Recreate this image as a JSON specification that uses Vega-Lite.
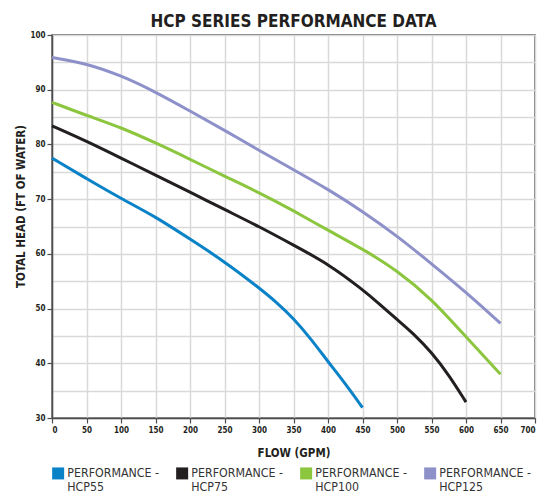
{
  "$schema": "https://vega.github.io/schema/vega-lite/v6.json",
  "width": 483,
  "height": 383,
  "autosize": "none",
  "padding": {"left": 52, "top": 35, "right": 16, "bottom": 76},
  "title": {
    "text": "HCP SERIES PERFORMANCE DATA",
    "font": "DejaVu Sans Condensed, sans-serif",
    "fontSize": 17,
    "fontWeight": "bold",
    "color": "#231f20",
    "anchor": "middle",
    "baseline": "alphabetic",
    "offset": 7,
    "dy": 20
  },
  "config": {
    "view": {"stroke": "#4d4d4d", "strokeWidth": 1.5},
    "axis": {
      "labelFont": "DejaVu Sans Condensed, sans-serif",
      "labelFontSize": 8,
      "labelFontWeight": "bold",
      "labelColor": "#231f20",
      "titleFont": "DejaVu Sans Condensed, sans-serif",
      "titleFontSize": 11.5,
      "titleFontWeight": "bold",
      "titleColor": "#231f20",
      "domainColor": "#4d4d4d",
      "domainWidth": 1.5,
      "tickColor": "#4d4d4d",
      "tickWidth": 1.2,
      "tickSize": 5,
      "gridColor": "#d9d9d9",
      "gridWidth": 1.5,
      "gridOpacity": 1
    }
  },
  "data": {
    "values": [
      {"series": "HCP55", "flow": 0, "head": 77.5},
      {"series": "HCP55", "flow": 50, "head": 73.75},
      {"series": "HCP55", "flow": 100, "head": 70.1},
      {"series": "HCP55", "flow": 150, "head": 66.8},
      {"series": "HCP55", "flow": 200, "head": 62.7},
      {"series": "HCP55", "flow": 250, "head": 58.6},
      {"series": "HCP55", "flow": 300, "head": 53.8},
      {"series": "HCP55", "flow": 325, "head": 51.2},
      {"series": "HCP55", "flow": 350, "head": 48.2},
      {"series": "HCP55", "flow": 375, "head": 44.5},
      {"series": "HCP55", "flow": 400, "head": 40.3},
      {"series": "HCP55", "flow": 425, "head": 36.3},
      {"series": "HCP55", "flow": 450, "head": 31.9},
      {"series": "HCP75", "flow": 0, "head": 83.4},
      {"series": "HCP75", "flow": 50, "head": 80.6},
      {"series": "HCP75", "flow": 100, "head": 77.5},
      {"series": "HCP75", "flow": 150, "head": 74.4},
      {"series": "HCP75", "flow": 200, "head": 71.3},
      {"series": "HCP75", "flow": 250, "head": 68.1},
      {"series": "HCP75", "flow": 300, "head": 65.0},
      {"series": "HCP75", "flow": 350, "head": 61.6},
      {"series": "HCP75", "flow": 400, "head": 58.2},
      {"series": "HCP75", "flow": 450, "head": 53.5},
      {"series": "HCP75", "flow": 475, "head": 50.8},
      {"series": "HCP75", "flow": 500, "head": 48.0},
      {"series": "HCP75", "flow": 525, "head": 45.3},
      {"series": "HCP75", "flow": 550, "head": 42.0},
      {"series": "HCP75", "flow": 575, "head": 37.9},
      {"series": "HCP75", "flow": 600, "head": 32.9},
      {"series": "HCP100", "flow": 0, "head": 87.7},
      {"series": "HCP100", "flow": 50, "head": 85.3},
      {"series": "HCP100", "flow": 100, "head": 83.1},
      {"series": "HCP100", "flow": 150, "head": 80.3},
      {"series": "HCP100", "flow": 200, "head": 77.3},
      {"series": "HCP100", "flow": 250, "head": 74.2},
      {"series": "HCP100", "flow": 300, "head": 71.2},
      {"series": "HCP100", "flow": 350, "head": 67.9},
      {"series": "HCP100", "flow": 400, "head": 64.3},
      {"series": "HCP100", "flow": 450, "head": 60.9},
      {"series": "HCP100", "flow": 500, "head": 57.0},
      {"series": "HCP100", "flow": 550, "head": 51.8},
      {"series": "HCP100", "flow": 600, "head": 44.8},
      {"series": "HCP100", "flow": 650, "head": 38.0},
      {"series": "HCP125", "flow": 0, "head": 95.9},
      {"series": "HCP125", "flow": 50, "head": 94.8},
      {"series": "HCP125", "flow": 100, "head": 92.6},
      {"series": "HCP125", "flow": 150, "head": 89.6},
      {"series": "HCP125", "flow": 200, "head": 86.1},
      {"series": "HCP125", "flow": 250, "head": 82.6},
      {"series": "HCP125", "flow": 300, "head": 78.9},
      {"series": "HCP125", "flow": 350, "head": 75.4},
      {"series": "HCP125", "flow": 400, "head": 71.8},
      {"series": "HCP125", "flow": 450, "head": 67.8},
      {"series": "HCP125", "flow": 500, "head": 63.3},
      {"series": "HCP125", "flow": 550, "head": 58.2},
      {"series": "HCP125", "flow": 600, "head": 53.0},
      {"series": "HCP125", "flow": 650, "head": 47.3}
    ]
  },
  "mark": {"type": "line", "strokeWidth": 3, "interpolate": "basis"},
  "encoding": {
    "x": {
      "field": "flow",
      "type": "quantitative",
      "scale": {"domain": [0, 700], "nice": false, "zero": false},
      "axis": {
        "title": "FLOW (GPM)",
        "values": [0, 50, 100, 150, 200, 250, 300, 350, 400, 450, 500, 550, 600, 650, 700],
        "labelPadding": 3,
        "titlePadding": 13
      }
    },
    "y": {
      "field": "head",
      "type": "quantitative",
      "scale": {"domain": [30, 100], "nice": false, "zero": false},
      "axis": {
        "title": "TOTAL HEAD (FT OF WATER)",
        "values": [30, 35, 40, 45, 50, 55, 60, 65, 70, 75, 80, 85, 90, 95, 100],
        "labelExpr": "datum.value % 10 === 0 ? datum.label : ''",
        "tickOpacity": {"condition": {"test": "datum.value % 10 !== 0", "value": 0}, "value": 1},
        "labelPadding": 2,
        "titlePadding": 3,
        "titleY": 171
      }
    },
    "color": {
      "field": "series",
      "type": "nominal",
      "scale": {
        "domain": ["HCP55", "HCP75", "HCP100", "HCP125"],
        "range": ["#0a82c8", "#231f20", "#8cc63f", "#8e91c9"]
      },
      "legend": {
        "title": null,
        "orient": "none",
        "legendX": 0,
        "legendY": 432,
        "direction": "horizontal",
        "columns": 4,
        "columnPadding": 16,
        "padding": 0,
        "symbolType": "square",
        "symbolSize": 144,
        "symbolStrokeWidth": 0,
        "labelFont": "DejaVu Sans Condensed, sans-serif",
        "labelFontSize": 12.3,
        "labelColor": "#333333",
        "labelOffset": 3,
        "labelLimit": 200,
        "labelExpr": "['PERFORMANCE -', datum.label]",
        "encode": {
          "symbols": {"update": {"fill": {"scale": "color", "field": "value"}, "strokeWidth": {"value": 0}}},
          "labels": {"update": {"lineHeight": {"value": 14}}}
        }
      }
    }
  }
}
